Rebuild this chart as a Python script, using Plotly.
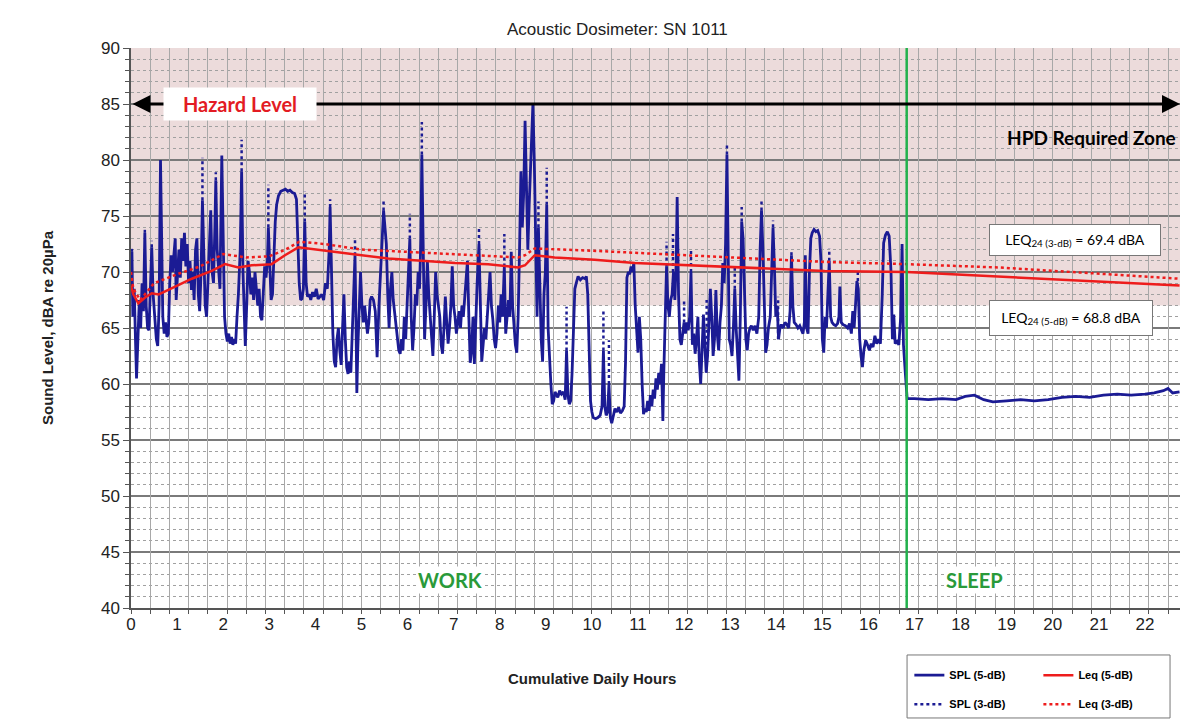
import plotly.graph_objects as go

# ---- data ----
spl_hours = [
    0.00, 0.02, 0.04, 0.07, 0.10, 0.12, 0.15, 0.18, 0.21, 0.24, 0.27, 0.30, 0.33, 0.36, 0.39, 0.42, 0.45, 0.48,
    0.51, 0.55, 0.58, 0.61, 0.64, 0.66, 0.69, 0.72, 0.75, 0.78, 0.81, 0.84, 0.87, 0.90, 0.93, 0.96, 0.98, 1.01,
    1.04, 1.07, 1.10, 1.13, 1.16, 1.19, 1.22, 1.25, 1.28, 1.31, 1.34, 1.37, 1.40, 1.43, 1.46, 1.49, 1.52, 1.55,
    1.58, 1.61, 1.64, 1.67, 1.70, 1.73, 1.76, 1.79, 1.82, 1.84, 1.87, 1.90, 1.93, 1.97, 2.00,
    2.03, 2.06, 2.09, 2.12, 2.15, 2.18, 2.21, 2.24, 2.27, 2.30, 2.33, 2.37, 2.40, 2.43, 2.46, 2.48, 2.51, 2.54,
    2.57, 2.60, 2.63, 2.66, 2.69, 2.72, 2.75, 2.78, 2.81, 2.84, 2.87, 2.90, 2.93, 2.96, 2.98, 3.01, 3.04, 3.07,
    3.10, 3.13, 3.16, 3.20, 3.25, 3.30, 3.35, 3.40, 3.45, 3.50, 3.55, 3.59, 3.62, 3.65, 3.68, 3.71, 3.74, 3.77,
    3.80, 3.83, 3.87, 3.90, 3.94, 3.98, 4.02, 4.06, 4.10, 4.14, 4.18, 4.22, 4.26, 4.30, 4.32, 4.35, 4.38, 4.41,
    4.44, 4.47, 4.50, 4.53, 4.56, 4.59, 4.62, 4.65, 4.68, 4.71, 4.74, 4.77, 4.80, 4.83, 4.86, 4.88, 4.90, 4.92,
    4.95, 4.98, 5.01,
    5.04, 5.07, 5.10, 5.13, 5.16, 5.19, 5.22, 5.26, 5.30, 5.34, 5.38, 5.42, 5.45, 5.48, 5.51, 5.54, 5.57, 5.60,
    5.63, 5.66, 5.69, 5.72, 5.75, 5.78, 5.81, 5.84, 5.87, 5.90, 5.93, 5.96, 5.99, 6.02, 6.05, 6.08, 6.11, 6.14,
    6.17, 6.20, 6.23, 6.26, 6.29, 6.31, 6.34, 6.37, 6.40, 6.43, 6.46, 6.49, 6.52, 6.55, 6.58, 6.61, 6.64, 6.67,
    6.70, 6.73, 6.76, 6.79, 6.82, 6.85, 6.88, 6.91, 6.94, 6.97, 7.00, 7.03, 7.06, 7.09, 7.12, 7.15, 7.18, 7.21,
    7.24, 7.27, 7.30, 7.33, 7.36, 7.39, 7.42, 7.45, 7.48, 7.51, 7.55, 7.58, 7.61, 7.64, 7.67, 7.70, 7.73, 7.76,
    7.79, 7.82, 7.85, 7.88, 7.91, 7.94, 7.97, 8.00, 8.03, 8.06, 8.10, 8.13, 8.16, 8.19, 8.22, 8.25, 8.28, 8.31,
    8.34, 8.37, 8.40, 8.43, 8.46, 8.49, 8.52, 8.55, 8.58, 8.61, 8.64, 8.67, 8.70, 8.72, 8.75, 8.78, 8.81, 8.84,
    8.87, 8.90, 8.93, 8.96, 8.99, 9.02, 9.05, 9.08, 9.11, 9.14, 9.17, 9.20, 9.23, 9.26, 9.30, 9.34, 9.38, 9.42,
    9.45, 9.48, 9.51, 9.54, 9.57, 9.60, 9.63, 9.66, 9.70, 9.75, 9.80, 9.85, 9.88, 9.91, 9.94, 9.97, 10.00, 10.03,
    10.08, 10.13, 10.18, 10.22, 10.25, 10.28, 10.31, 10.34, 10.37, 10.40, 10.43, 10.46, 10.50, 10.54, 10.58,
    10.62, 10.66, 10.70, 10.73, 10.76, 10.79, 10.82, 10.85, 10.88, 10.91, 10.94, 10.97, 11.00, 11.03, 11.06,
    11.09, 11.12, 11.15, 11.18, 11.21, 11.24, 11.27, 11.30, 11.33, 11.36, 11.39, 11.42, 11.45, 11.48, 11.51,
    11.54, 11.56, 11.59, 11.62, 11.65, 11.68, 11.71, 11.74, 11.77, 11.80, 11.83, 11.85, 11.88, 11.91, 11.94,
    11.97, 12.00, 12.03, 12.06, 12.09, 12.12, 12.15, 12.18, 12.21, 12.24, 12.27, 12.30, 12.33, 12.36, 12.39,
    12.42, 12.45, 12.48, 12.51, 12.54, 12.57, 12.60, 12.63, 12.66, 12.69, 12.72, 12.75, 12.78, 12.81, 12.84,
    12.87, 12.90, 12.93, 12.95, 12.98, 13.01, 13.04, 13.07, 13.10, 13.13, 13.16, 13.19, 13.22, 13.25, 13.28,
    13.31, 13.34, 13.37, 13.40, 13.43, 13.46, 13.50, 13.54, 13.58, 13.62, 13.65, 13.68, 13.71, 13.74, 13.77,
    13.80, 13.83, 13.87, 13.90, 13.93, 13.96, 13.99, 14.02, 14.05, 14.08, 14.11, 14.15, 14.19, 14.23, 14.27,
    14.30, 14.33, 14.36, 14.39, 14.43, 14.47, 14.51, 14.55, 14.58, 14.61, 14.63, 14.66, 14.69, 14.72, 14.75,
    14.78, 14.82, 14.86, 14.90, 14.94, 14.97, 15.00, 15.03, 15.06, 15.09, 15.12, 15.15, 15.18, 15.21, 15.25,
    15.29, 15.33, 15.36, 15.38, 15.41, 15.45, 15.50, 15.55, 15.59, 15.63, 15.66, 15.69, 15.72, 15.75, 15.78,
    15.81, 15.84, 15.87, 15.90, 15.94, 15.98, 16.02, 16.06, 16.10, 16.14, 16.18, 16.22, 16.26, 16.30, 16.33,
    16.37, 16.41, 16.45, 16.49, 16.52, 16.55, 16.58, 16.62, 16.66, 16.70, 16.73, 16.76, 16.80, 16.84,
    17.0, 17.3, 17.6, 17.9, 18.1, 18.3, 18.5, 18.7, 19.0, 19.3, 19.6, 19.9, 20.2, 20.5, 20.8, 21.1, 21.4,
    21.7, 22.0, 22.2, 22.4, 22.5, 22.6, 22.75,
]
spl_5db = [
    70.5, 71.8, 66.0, 68.5, 63.5, 60.5, 64.0, 67.5, 65.0, 69.0, 66.5, 73.5, 67.0, 65.0, 64.8, 68.5, 72.2, 68.0,
    66.0, 64.0, 63.4, 67.0, 80.0, 72.0, 66.0, 64.5, 65.5, 64.2, 64.5, 69.0, 71.5, 70.0, 72.0, 73.0, 67.5, 70.5,
    72.0, 69.5, 73.0, 71.0, 73.5, 70.5, 72.5, 69.0, 71.0, 68.4, 70.0, 67.5, 72.0, 73.0, 68.0, 66.5, 70.0, 76.4,
    70.0, 67.0, 66.0, 69.0, 72.5, 75.5, 70.0, 69.0, 74.0, 78.2, 72.0, 70.0, 68.5, 80.4, 72.0,
    66.0, 64.5, 63.8, 64.5, 63.6, 64.2, 63.5, 64.0, 63.6, 66.0, 68.0, 72.0, 79.0, 70.0, 65.0, 63.4, 67.0, 71.0,
    70.0, 68.0, 69.5, 67.5, 70.0, 68.5, 67.0, 68.5, 66.0, 65.7, 68.0, 70.5, 69.5, 71.0, 74.0, 70.0, 67.5, 68.0,
    72.0, 74.5, 76.0, 76.8, 77.2, 77.3, 77.4, 77.2, 77.3, 77.1, 77.0, 76.5, 72.0, 69.0, 67.5, 67.6, 68.5, 74.5,
    69.0, 67.8, 68.0, 67.5, 68.2, 67.8, 68.5, 67.6, 67.8, 68.0, 67.5, 69.0, 68.5, 72.0, 75.8, 70.0, 64.5, 62.0,
    61.5, 64.0, 65.0, 63.0, 61.7, 65.0, 68.0, 64.0, 61.5, 60.9, 62.0, 61.0, 64.0, 68.0, 71.5, 66.0, 59.2, 63.0,
    66.5, 70.0, 67.0,
    65.5, 67.0, 66.0, 64.5, 65.5, 67.5, 67.8, 67.5, 66.5, 62.4, 67.0, 70.0, 73.0, 75.5, 74.0, 72.5, 68.0, 65.0,
    68.5, 70.0, 67.5, 66.5, 65.0, 64.0, 63.0, 62.7, 64.0, 63.0, 66.0, 64.0, 67.0, 70.0, 73.0, 66.0, 63.0, 65.0,
    68.0, 67.0, 70.0, 68.5, 73.0, 80.5, 72.0, 64.0, 67.0, 71.0, 68.0, 66.0, 63.5, 62.5, 66.0, 70.0, 68.0, 67.0,
    66.0, 63.5, 62.7, 65.0, 67.8, 65.5, 63.6, 65.0, 67.0, 70.5, 67.0, 66.0, 64.5, 65.5, 66.5, 65.0, 67.0, 66.0,
    68.0, 70.0, 71.0, 66.0, 61.9, 63.0, 66.0, 61.8, 66.0, 69.0, 72.5, 66.0, 62.0, 63.5, 65.0, 64.0, 66.5, 68.0,
    70.0, 67.0, 65.8, 64.0, 63.2, 64.5, 67.0, 65.5, 68.0, 66.0, 70.5, 64.5, 66.0, 67.5, 66.0, 71.8, 67.0, 65.0,
    63.5, 62.8, 66.0, 72.0, 79.0, 74.0, 77.0, 83.5, 78.0, 72.0, 76.0, 80.0, 83.0, 85.0, 80.0, 72.0, 66.0, 74.0,
    69.0, 64.0, 62.0, 68.0, 70.0, 76.0, 65.0, 62.0, 60.0, 58.2, 58.5, 59.3, 59.0, 58.8, 59.4, 59.1, 59.3, 58.6,
    63.0, 59.0, 58.2, 58.5, 61.0, 65.0, 68.5, 69.0, 69.6, 69.3, 69.5, 69.4, 69.6, 68.0, 63.0, 58.5, 57.5, 57.0,
    56.9, 57.0, 57.2, 58.0, 63.0, 58.0, 57.2, 57.5, 60.0, 57.0, 56.5, 57.2, 57.8, 57.5, 57.9,
    57.4, 57.6, 58.0, 62.0, 69.5, 70.0, 69.8, 70.5, 70.0, 70.8, 67.0, 65.0, 62.8, 66.0, 64.0,
    60.0, 57.3, 57.8, 57.5, 58.5, 57.6, 59.0, 58.0, 59.5, 58.7, 60.5, 59.5, 61.0, 60.0, 61.8,
    56.7, 61.0, 66.0, 70.5, 67.0, 66.0, 67.5, 68.0, 70.0, 67.5, 71.0, 76.7, 68.0, 64.0, 63.5,
    64.5, 65.5, 64.5, 65.5, 64.8, 66.0, 70.0, 63.5, 64.5, 62.7, 64.0, 66.0, 62.0, 60.0, 63.0,
    66.2, 63.5, 61.0, 62.5, 65.0, 68.5, 66.0, 62.5, 64.0, 68.4, 64.5, 63.0, 65.5, 67.0, 70.8,
    69.0, 72.5, 80.5, 74.0, 64.0, 63.5, 62.5, 65.0, 68.5, 65.0, 63.0, 60.3, 66.0, 74.5, 73.0,
    69.0, 64.0, 63.0, 64.5, 65.0, 65.2, 64.8, 65.2, 64.5, 66.0, 72.0, 75.5, 72.0, 66.0, 62.8,
    63.5, 65.0, 66.0, 70.0, 74.0, 70.5, 66.0, 67.0, 64.0, 65.0, 65.3, 65.0, 65.5, 65.3, 65.0,
    66.5, 71.5, 67.0, 65.5, 65.3, 65.0, 65.2, 64.8, 64.5, 65.5, 71.5, 65.0, 64.5, 70.0, 73.0,
    73.5, 73.8, 73.6, 73.7, 73.2, 71.0, 64.0, 62.8, 66.0, 65.0, 68.0, 71.0, 66.0, 65.5, 65.3,
    65.2, 65.4, 66.0, 68.7, 65.5, 65.3, 65.2, 65.0, 65.4, 64.5, 66.5, 65.0, 67.0, 69.2, 68.5,
    64.0, 62.5, 61.5, 63.0, 63.9, 63.5, 63.0, 63.6, 63.3, 64.3, 63.6, 64.0, 63.6, 68.0, 72.6,
    73.3, 73.6, 73.2, 70.0, 64.0, 66.2, 63.6, 63.8, 63.5, 66.0, 72.5, 63.5, 61.0, 58.7,
    58.7, 58.6, 58.7, 58.6, 58.9, 59.0, 58.6, 58.4, 58.5, 58.6, 58.5, 58.6, 58.8, 58.9, 58.8, 59.0, 59.1,
    59.0, 59.1, 59.2, 59.4, 59.6, 59.2, 59.3,
]

# 3-dB exchange-rate SPL: only the spike tops that rise above the 5-dB trace are visible
spl3_hours = [0.02, 0.30, 0.45, 1.55, 1.84, 2.40, 2.98, 3.77, 4.32, 4.86, 5.48, 6.05, 6.31, 7.55, 8.10,
              8.84, 9.02, 9.45, 10.25, 10.37, 11.62, 11.76, 12.00, 12.15, 12.49, 12.93, 13.10, 13.25,
              13.68, 13.93, 14.04, 14.33, 15.15, 15.77]
spl3_low = [71.8, 73.5, 72.2, 76.4, 78.2, 79.0, 74.0, 74.5, 75.8, 71.5, 75.5, 73.0, 80.5, 72.5, 70.5,
            74.0, 76.0, 63.0, 63.0, 60.0, 70.5, 70.0, 65.5, 70.0, 63.5, 80.5, 68.5, 74.5,
            75.5, 74.0, 64.0, 71.5, 71.0, 69.2]
spl3_high = [72.2, 74.0, 72.8, 80.2, 78.9, 81.8, 77.8, 77.2, 76.5, 73.1, 76.4, 75.2, 83.4, 74.0, 73.4,
             76.3, 79.3, 66.9, 66.6, 63.9, 72.7, 73.4, 67.5, 71.9, 67.5, 81.3, 70.4, 75.8,
             76.4, 74.6, 67.8, 71.8, 72.1, 70.1]

leq5_hours = [0.0, 0.05, 0.16, 0.30, 0.45, 0.60, 0.81, 1.00, 1.32, 1.75, 2.04, 2.33, 2.62, 3.05, 3.34,
              3.63, 4.21, 4.93, 5.58, 6.31, 7.03, 7.75, 8.40, 8.55, 8.76, 9.19, 10.06, 10.93, 12.02,
              13.10, 14.19, 15.05, 16.83, 18.85, 20.80, 22.75]
leq_5db = [68.8, 68.0, 67.2, 67.7, 68.1, 68.0, 68.4, 68.8, 69.4, 70.1, 70.7, 70.4, 70.6, 70.7, 71.5,
           72.2, 71.9, 71.5, 71.2, 71.0, 70.8, 70.7, 70.4, 70.6, 71.5, 71.3, 71.1, 70.8, 70.6,
           70.4, 70.2, 70.1, 70.0, 69.6, 69.2, 68.8]

leq3_hours = [0.0, 0.05, 0.20, 0.50, 1.00, 1.50, 2.00, 2.50, 3.00, 3.35, 3.65, 4.20, 5.00, 6.00, 7.00,
              8.40, 8.55, 8.76, 10.00, 12.00, 14.00, 15.05, 16.83, 18.85, 20.80, 22.75]
leq_3db = [70.0, 68.5, 67.5, 69.0, 69.8, 70.5, 71.6, 71.3, 71.4, 72.0, 72.7, 72.5, 72.0, 71.8, 71.6,
           71.3, 71.5, 72.1, 71.9, 71.5, 71.1, 70.9, 70.7, 70.4, 69.9, 69.4]

hour_ticks = list(range(0, 23))
sleep_start = 16.83
hazard_db = 85
hpd_floor = 67
x_end = 22.76

BLUE = "#1b1b94"
RED = "#ee1c1c"
GREEN = "#2a9a3a"
FONT = "Liberation Sans, Arial, sans-serif"
CALI = "Lato, Open Sans, sans-serif"

# spike segments for the dotted 3-dB trace
sx, sy = [], []
for h, lo, hi in zip(spl3_hours, spl3_low, spl3_high):
    sx += [h, h, None]
    sy += [lo, hi, None]

fig = go.Figure()
fig.add_trace(go.Scatter(x=sx, y=sy, mode="lines", name="SPL (3-dB)", legend="legend", legendrank=2,
                         legendgroup="s3", line=dict(color=BLUE, width=2.5, dash="dot")))
fig.add_trace(go.Scatter(x=spl_hours, y=spl_5db, mode="lines", name="SPL (5-dB)", legend="legend",
                         legendrank=1, legendgroup="s5", line=dict(color=BLUE, width=2.8)))
# Leq curves on the overlaid axis (same range) so they sit above the SPL trace
fig.add_trace(go.Scatter(x=leq3_hours, y=leq_3db, mode="lines", name="Leq (3-dB)", xaxis="x2",
                         legend="legend2", legendrank=2, legendgroup="l3",
                         line=dict(color=RED, width=2.5, dash="dot")))
fig.add_trace(go.Scatter(x=leq5_hours, y=leq_5db, mode="lines", name="Leq (5-dB)", xaxis="x2",
                         legend="legend2", legendrank=1, legendgroup="l5",
                         line=dict(color=RED, width=2.5)))

# HPD required zone shading
fig.add_shape(type="rect", xref="x", yref="y", x0=0, x1=x_end, y0=hpd_floor, y1=90,
              fillcolor="#ecdbdb", line_width=0, layer="below")
# work / sleep divider
fig.add_shape(type="line", xref="x", yref="y", x0=sleep_start, x1=sleep_start, y0=40, y1=90,
              line=dict(color="#22b14c", width=2.5))
# frame round the two legend columns
fig.add_shape(type="rect", xref="paper", yref="paper", x0=0.7398, x1=0.9905, y0=-0.1964, y1=-0.0839,
              line=dict(color="#777", width=1), fillcolor="white", layer="below")

# hazard arrow
fig.add_annotation(x=x_end, y=hazard_db, ax=0, ay=hazard_db, xref="x", yref="y", axref="x", ayref="y",
                   text="", showarrow=True, arrowhead=2, arrowside="end+start", arrowsize=1.2,
                   arrowwidth=3, arrowcolor="black")
fig.add_annotation(x=2.36, y=hazard_db, xref="x", yref="y", text="<b>Hazard Level</b>", showarrow=False,
                   font=dict(family=CALI, size=20, color="#e31b23"), bgcolor="white", width=150, height=30)
fig.add_annotation(x=22.72, y=82, xref="x", yref="y", xanchor="right", text="<b>HPD Required Zone</b>",
                   showarrow=False, font=dict(family=CALI, size=19, color="black"))
fig.add_annotation(x=20.48, y=72.9, xref="x", yref="y", text="LEQ<sub>24 (3-dB)</sub> = 69.4 dBA",
                   showarrow=False, font=dict(family=CALI, size=14, color="black"), bgcolor="white",
                   bordercolor="#777", borderwidth=1, width=168, height=28)
fig.add_annotation(x=20.39, y=65.9, xref="x", yref="y", text="LEQ<sub>24 (5-dB)</sub> = 68.8 dBA",
                   showarrow=False, font=dict(family=CALI, size=14, color="black"), bgcolor="white",
                   bordercolor="#777", borderwidth=1, width=160, height=32)
fig.add_annotation(x=6.92, y=42.5, xref="x", yref="y", text="<b>WORK</b>", showarrow=False,
                   font=dict(family=CALI, size=20, color=GREEN), bgcolor="white")
fig.add_annotation(x=18.3, y=42.5, xref="x", yref="y", text="<b>SLEEP</b>", showarrow=False,
                   font=dict(family=CALI, size=20, color=GREEN), bgcolor="white")
fig.add_annotation(x=0.464, y=1.0, xref="paper", yref="paper", yanchor="bottom", yshift=7,
                   text="Acoustic Dosimeter: SN 1011", showarrow=False,
                   font=dict(family=FONT, size=17, color="#222"))
fig.add_annotation(x=10, y=-0.125, xref="x", yref="paper", yanchor="middle",
                   text="<b>Cumulative Daily Hours</b>",
                   showarrow=False, font=dict(family=FONT, size=15, color="#222"))

legend_style = dict(orientation="v", xanchor="left", yanchor="top", tracegroupgap=10,
                    font=dict(size=11, family=FONT, color="black", weight="bold"),
                    bgcolor="rgba(0,0,0,0)", borderwidth=0, itemwidth=30)

fig.update_layout(
    width=1180, height=723,
    margin=dict(l=131, r=0, t=48, b=115, autoexpand=False),
    plot_bgcolor="white", paper_bgcolor="white",
    font=dict(family=FONT, color="#222"),
    showlegend=True,
    legend=dict(x=0.742, y=-0.094, **legend_style),
    legend2=dict(x=0.865, y=-0.094, **legend_style),
    xaxis=dict(range=[0, x_end], tickmode="array", tickvals=hour_ticks, showgrid=False, ticks="",
               showline=True, linecolor="#555", linewidth=1.5, zeroline=False,
               tickfont=dict(size=17, color="#222")),
    xaxis2=dict(range=[0, x_end], overlaying="x", side="bottom", tick0=0, dtick=5 / 12,
                showticklabels=False, showgrid=True, gridcolor="#a8a8a8", gridwidth=1,
                ticks="outside", ticklen=5, tickcolor="#555", zeroline=False),
    yaxis=dict(range=[40, 90], dtick=5, tick0=40, showgrid=True, gridcolor="#7a7a7a", gridwidth=2,
               showline=True, linecolor="#555", linewidth=1.5, zeroline=False,
               ticks="outside", ticklen=6, tickcolor="#555", tickfont=dict(size=17, color="#222"),
               title=dict(text="<b>Sound Level, dBA re 20µPa</b>", font=dict(size=15, color="#222"),
                          standoff=44),
               minor=dict(dtick=1, showgrid=True, gridcolor="#a0a0a0", griddash="dot", gridwidth=1,
                          ticks="outside", ticklen=4, tickcolor="#555")),
)

# the page's default body margin would shift the 1180x723 figure; remove it
fig.write_html("out.html", config={"displayModeBar": False},
               post_script="document.body.style.margin='0';document.body.style.overflow='hidden';")
